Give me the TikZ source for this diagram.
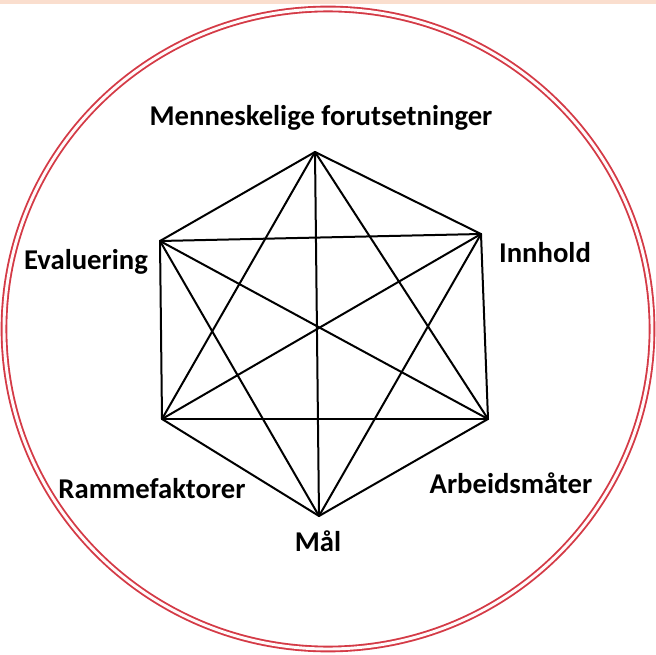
\documentclass[tikz,border=0pt]{standalone}
\usepackage{fontspec}
\setmainfont{Carlito}
\usetikzlibrary{positioning}
\definecolor{ringred}{RGB}{212,58,70}
\definecolor{peach}{RGB}{250,222,206}
\tikzset{
  corner/.style={inner sep=0pt,minimum size=0pt},
  lbl/.style={font=\bfseries\fontsize{21.5}{24}\selectfont,inner sep=1pt},
  edge/.style={draw=black,line width=1.5pt,line cap=round,line join=round},
  ring/.style={draw=ringred,line width=1.4pt,double=white!92!pink,double distance=2.2pt}
}
\begin{document}
\begin{tikzpicture}[x=0.75pt,y=-0.75pt]
  \useasboundingbox (0,0) rectangle (656,655);
  \fill[peach] (0,0) rectangle (656,4.5);
  \draw[ring] (328,329) ellipse [x radius=324,y radius=320];
  % corners of the hexagon
  \coordinate (mf) at (315,152);
  \coordinate (ev) at (160,241);
  \coordinate (inn) at (481,234);
  \coordinate (ram) at (162,419);
  \coordinate (arb) at (488,419);
  \coordinate (mal) at (319,516);
  \foreach \a/\b in {mf/ev,mf/inn,mf/ram,mf/arb,mf/mal,
                     ev/inn,ev/ram,ev/arb,ev/mal,
                     inn/ram,inn/arb,inn/mal,
                     ram/arb,ram/mal,arb/mal}
    \draw[edge] (\a) -- (\b);
  % labels
  \node[lbl] (mfl) at (321,118) {Menneskelige forutsetninger};
  \node[lbl] (evl) at (86,262) {Evaluering};
  \node[lbl] (innl) at (545,253) {Innhold};
  \node[lbl] (raml) at (152,489) {Rammefaktorer};
  \node[lbl] (arbl) at (511,483) {Arbeidsmåter};
  \node[lbl] (mall) at (318,541) {Mål};
\end{tikzpicture}
\end{document}
